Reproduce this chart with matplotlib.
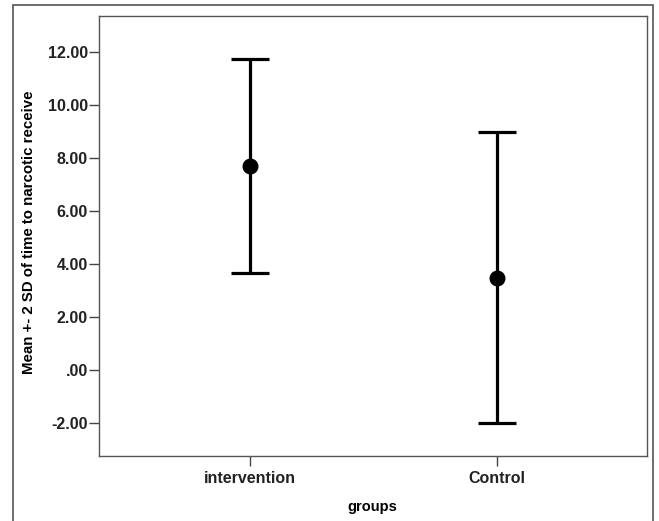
import matplotlib
matplotlib.use("Agg")
import matplotlib.pyplot as plt
from matplotlib.patches import Rectangle

groups = ["intervention", "Control"]
means = [7.71, 3.47]
upper = [11.74, 8.98]
lower = [3.65, -2.02]
yticks = [-2.0, 0.0, 2.0, 4.0, 6.0, 8.0, 10.0, 12.0]
ytick_labels = ["-2.00", ".00", "2.00", "4.00", "6.00", "8.00", "10.00", "12.00"]

plt.rcParams['font.family'] = ['Liberation Sans', 'DejaVu Sans']

W, H = 659, 521
fig = plt.figure(figsize=(W/100, H/100), dpi=100)
fig.patch.set_facecolor('white')

# outer frame
fig.patches.append(Rectangle((13/W, -0.05), (653-13)/W, 1.05 - 5/H, transform=fig.transFigure,
                             fill=False, edgecolor='#555555', linewidth=1.2))

ax = fig.add_axes([99/W, 1-456/H, (647-99)/W, (456-16)/H])
x = list(range(len(groups)))
yerr = [[m - l for m, l in zip(means, lower)], [u - m for m, u in zip(means, upper)]]
ax.errorbar(x, means, yerr=yerr, fmt='o', color='black', markersize=10.5,
            elinewidth=2.3, capsize=13.7, capthick=2.3)

ax.set_xlim(-0.611, 1.607)
ax.set_ylim(-3.25, 13.36)
ax.set_xticks(x)
ax.set_xticklabels(groups, fontsize=11.5, fontweight='bold', color='#222222')
ax.set_yticks(yticks)
ax.set_yticklabels(ytick_labels, fontsize=11.5, fontweight='bold', color='#222222')
ax.tick_params(axis='y', length=7, width=1, color='#444444', pad=1)
ax.tick_params(axis='x', length=7, width=1, color='#444444', pad=4)
for s in ax.spines.values():
    s.set_color('#555555')
    s.set_linewidth(1)

ax.set_ylabel("Mean +- 2 SD of time to narcotic receive", fontsize=10.8, fontweight='bold')
ax.yaxis.set_label_coords((29 - 99) / (647 - 99), (456 - 232) / (456 - 16))
ax.set_xlabel("groups", fontsize=10.5, fontweight='bold')
ax.xaxis.set_label_coords((372 - 99) / (647 - 99), -(507 - 456) / (456 - 16))
ax.xaxis.label.set_verticalalignment('center')
ax.yaxis.label.set_verticalalignment('center')

fig.savefig("out.png", dpi=100)
